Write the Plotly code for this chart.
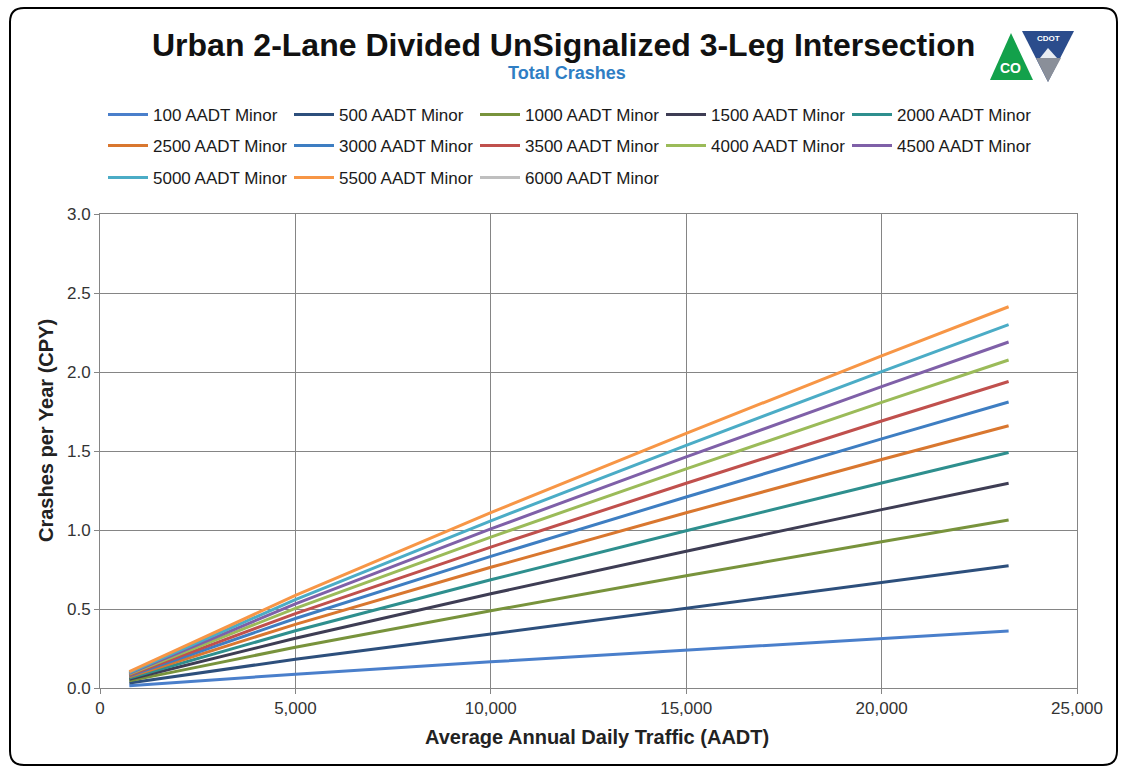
import plotly.graph_objects as go

# ---------------- data ----------------
aadt_major = [750, 5000, 10000, 15000, 20000, 23250]

series_names = ["100 AADT Minor", "500 AADT Minor", "1000 AADT Minor", "1500 AADT Minor",
                "2000 AADT Minor", "2500 AADT Minor", "3000 AADT Minor", "3500 AADT Minor",
                "4000 AADT Minor", "4500 AADT Minor", "5000 AADT Minor", "5500 AADT Minor",
                "6000 AADT Minor"]

crashes_100 = [0.015, 0.087, 0.166, 0.240, 0.314, 0.360]
crashes_500 = [0.032, 0.182, 0.342, 0.506, 0.668, 0.774]
crashes_1000 = [0.045, 0.258, 0.489, 0.710, 0.926, 1.063]
crashes_1500 = [0.055, 0.315, 0.596, 0.866, 1.129, 1.296]
crashes_2000 = [0.063, 0.362, 0.685, 0.995, 1.298, 1.490]
crashes_2500 = [0.071, 0.403, 0.764, 1.109, 1.446, 1.660]
crashes_3000 = [0.077, 0.440, 0.833, 1.209, 1.577, 1.810]
crashes_3500 = [0.082, 0.471, 0.892, 1.296, 1.690, 1.940]
crashes_4000 = [0.088, 0.504, 0.955, 1.387, 1.808, 2.076]
crashes_4500 = [0.093, 0.532, 1.007, 1.463, 1.907, 2.190]
crashes_5000 = [0.098, 0.559, 1.058, 1.536, 2.003, 2.300]
crashes_5500 = [0.103, 0.586, 1.110, 1.612, 2.102, 2.413]
crashes_6000 = [None, None, None, None, None, None]

all_series = [crashes_100, crashes_500, crashes_1000, crashes_1500, crashes_2000,
              crashes_2500, crashes_3000, crashes_3500, crashes_4000, crashes_4500,
              crashes_5000, crashes_5500, crashes_6000]

colors = ["#4A7FCB", "#2D4F7C", "#78933C", "#3E3D54", "#2E8F8E",
          "#D9772F", "#3E7EC2", "#C0504D", "#9BBB59", "#7F60A8",
          "#4BACC6", "#F79646", "#BFBFBF"]

x_ticks = [0, 5000, 10000, 15000, 20000, 25000]
y_ticks = [0.0, 0.5, 1.0, 1.5, 2.0, 2.5, 3.0]

# ---------------- layout geometry ----------------
W, H = 1122, 770
L, R, T, B = 100, 45, 214, 82
PW, PH = W - L - R, H - T - B


def px(xp):
    return (xp - L) / PW


def py(yp):
    return (H - B - yp) / PH


FONT = "Liberation Sans, Arial, sans-serif"

fig = go.Figure()
legend_ids = ["legend"] * 5 + ["legend2"] * 5 + ["legend3"] * 3
for name, ys, col, lg in zip(series_names, all_series, colors, legend_ids):
    fig.add_trace(go.Scatter(x=aadt_major, y=ys, name=name, mode="lines",
                             line=dict(color=col, width=3), legend=lg))

leg_common = dict(orientation="h", xanchor="left", yanchor="middle",
                  font=dict(family=FONT, size=17, color="#1a1a1a"),
                  bgcolor="rgba(0,0,0,0)", entrywidth=131, itemwidth=40,
                  traceorder="normal")

# rounded border path
x0, x1, y0, y1 = px(10), px(1117), py(765), py(8)
rx, ry = 14 / PW, 14 / PH
border_path = (f"M {x0+rx},{y1} L {x1-rx},{y1} Q {x1},{y1} {x1},{y1-ry} "
               f"L {x1},{y0+ry} Q {x1},{y0} {x1-rx},{y0} L {x0+rx},{y0} "
               f"Q {x0},{y0} {x0},{y0+ry} L {x0},{y1-ry} Q {x0},{y1} {x0+rx},{y1} Z")

green_tri = f"M {px(1011)},{py(33)} L {px(1033)},{py(80)} L {px(990)},{py(80)} Z"
blue_tri = f"M {px(1022)},{py(31)} L {px(1074)},{py(31)} L {px(1048)},{py(82)} Z"
gray_tri = f"M {px(1036)},{py(58)} L {px(1061)},{py(58)} L {px(1048)},{py(82)} Z"
mountain = f"M {px(1040)},{py(58)} L {px(1048)},{py(48)} L {px(1057)},{py(58)} Z"

fig.update_layout(
    width=W, height=H,
    margin=dict(l=L, r=R, t=T, b=B),
    paper_bgcolor="white", plot_bgcolor="white",
    font=dict(family=FONT, color="#333333"),
    showlegend=True,
    legend=dict(x=px(103), y=py(115), **leg_common),
    legend2=dict(x=px(103), y=py(146), **leg_common),
    legend3=dict(x=px(103), y=py(178), **leg_common),
    xaxis=dict(range=[0, 25000], tickvals=x_ticks, tickformat=",d",
               showgrid=True, gridcolor="#858585", gridwidth=1,
               showline=True, linecolor="#858585", mirror=True,
               ticks="outside", ticklen=5, tickcolor="#858585",
               tickfont=dict(family=FONT, size=17, color="#333333"),
               zeroline=False),
    yaxis=dict(range=[0, 3.0], tickvals=y_ticks, tickformat=".1f",
               showgrid=True, gridcolor="#858585", gridwidth=1,
               showline=True, linecolor="#858585", mirror=True,
               ticks="outside", ticklen=5, tickcolor="#858585",
               tickfont=dict(family=FONT, size=17, color="#333333"),
               zeroline=False),
    shapes=[
        dict(type="path", path=border_path, xref="paper", yref="paper",
             line=dict(color="black", width=2), fillcolor="rgba(0,0,0,0)", layer="above"),
        dict(type="path", path=blue_tri, xref="paper", yref="paper",
             line=dict(width=0), fillcolor="#2B4C8C"),
        dict(type="path", path=gray_tri, xref="paper", yref="paper",
             line=dict(width=0), fillcolor="#8A8F99"),
        dict(type="path", path=mountain, xref="paper", yref="paper",
             line=dict(width=0), fillcolor="#E8ECF2"),
        dict(type="path", path=green_tri, xref="paper", yref="paper",
             line=dict(width=0), fillcolor="#13A14B"),
    ],
    annotations=[
        dict(text="<b>Urban 2-Lane Divided UnSignalized 3-Leg Intersection</b>",
             x=px(563), y=py(45), xref="paper", yref="paper", showarrow=False,
             xanchor="center", yanchor="middle",
             font=dict(family=FONT, size=32, color="#111111")),
        dict(text="<b>Total Crashes</b>",
             x=px(567), y=py(73), xref="paper", yref="paper", showarrow=False,
             xanchor="center", yanchor="middle",
             font=dict(family=FONT, size=18, color="#2F7EC4")),
        dict(text="<b>Average Annual Daily Traffic (AADT)</b>",
             x=px(597), y=py(737), xref="paper", yref="paper", showarrow=False,
             xanchor="center", yanchor="middle",
             font=dict(family=FONT, size=20, color="#222222")),
        dict(text="<b>Crashes per Year (CPY)</b>", textangle=-90,
             x=px(46), y=py(431), xref="paper", yref="paper", showarrow=False,
             xanchor="center", yanchor="middle",
             font=dict(family=FONT, size=20, color="#222222")),
        dict(text="<b>CO</b>", x=px(1010), y=py(68), xref="paper", yref="paper",
             xanchor="center", yanchor="middle",
             showarrow=False, font=dict(family=FONT, size=14, color="white")),
        dict(text="<b>CDOT</b>", x=px(1048), y=py(38), xref="paper", yref="paper",
             xanchor="center", yanchor="middle",
             showarrow=False, font=dict(family=FONT, size=8, color="white")),
    ],
)

fig.write_html("out.html", config={"displayModeBar": False},
               post_script="document.body.style.margin='0';document.body.style.overflow='hidden';")
